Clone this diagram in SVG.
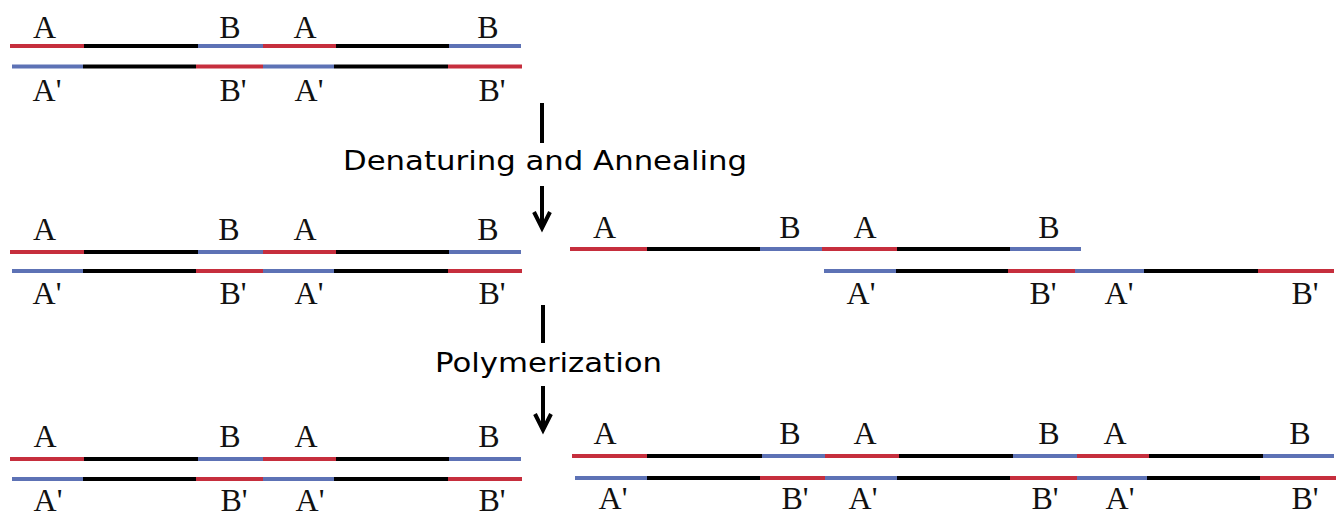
<svg xmlns="http://www.w3.org/2000/svg" width="1336" height="517" viewBox="0 0 1336 517">
<style>
.r{stroke:#c62e3d;stroke-width:4;fill:none}
.b{stroke:#5d72b5;stroke-width:4;fill:none}
.k{stroke:#000;stroke-width:4;fill:none}
.lab{font-family:"Liberation Serif",serif;font-size:32px;fill:#111;text-anchor:middle}
.step{font-family:"DejaVu Sans",sans-serif;font-size:26px;fill:#000;text-anchor:middle}
.ar{stroke:#000;stroke-width:4;fill:none}
</style>
<rect width="1336" height="517" fill="#fff"/>
<defs>
<g id="strandTop">
<line class="r" x1="10" y1="0" x2="84" y2="0"/>
<line class="k" x1="84" y1="0" x2="198" y2="0"/>
<line class="b" x1="198" y1="0" x2="263" y2="0"/>
<line class="r" x1="263" y1="0" x2="336" y2="0"/>
<line class="k" x1="336" y1="0" x2="449" y2="0"/>
<line class="b" x1="449" y1="0" x2="521" y2="0"/>
</g>
<g id="strandBot">
<line class="b" x1="12" y1="0" x2="83" y2="0"/>
<line class="k" x1="83" y1="0" x2="196" y2="0"/>
<line class="r" x1="196" y1="0" x2="263" y2="0"/>
<line class="b" x1="263" y1="0" x2="334" y2="0"/>
<line class="k" x1="334" y1="0" x2="448" y2="0"/>
<line class="r" x1="448" y1="0" x2="522" y2="0"/>
</g>
</defs>

<g id="row1-duplex">
<use href="#strandTop" y="46"/>
<use href="#strandBot" y="66.5"/>
<text class="lab" x="44.5" y="38">A</text>
<text class="lab" x="230" y="38">B</text>
<text class="lab" x="305" y="38">A</text>
<text class="lab" x="488" y="38">B</text>
<text class="lab" x="47" y="101">A'</text>
<text class="lab" x="233" y="101">B'</text>
<text class="lab" x="309" y="101">A'</text>
<text class="lab" x="492" y="101">B'</text>
</g>

<g id="row2-left">
<use href="#strandTop" y="252"/>
<use href="#strandBot" y="271"/>
<text class="lab" x="44.5" y="240">A</text>
<text class="lab" x="229" y="240">B</text>
<text class="lab" x="305" y="240">A</text>
<text class="lab" x="488" y="240">B</text>
<text class="lab" x="47" y="304">A'</text>
<text class="lab" x="233" y="304">B'</text>
<text class="lab" x="309" y="304">A'</text>
<text class="lab" x="492" y="304">B'</text>
</g>

<g id="row2-right">
<line class="r" x1="570" y1="249" x2="647" y2="249"/>
<line class="k" x1="647" y1="249" x2="760" y2="249"/>
<line class="b" x1="760" y1="249" x2="822" y2="249"/>
<line class="r" x1="822" y1="249" x2="897" y2="249"/>
<line class="k" x1="897" y1="249" x2="1010" y2="249"/>
<line class="b" x1="1010" y1="249" x2="1081" y2="249"/>
<line class="b" x1="824" y1="271" x2="896" y2="271"/>
<line class="k" x1="896" y1="271" x2="1008" y2="271"/>
<line class="r" x1="1008" y1="271" x2="1075" y2="271"/>
<line class="b" x1="1075" y1="271" x2="1144" y2="271"/>
<line class="k" x1="1144" y1="271" x2="1258" y2="271"/>
<line class="r" x1="1258" y1="271" x2="1334" y2="271"/>
<text class="lab" x="604.5" y="238">A</text>
<text class="lab" x="790" y="238">B</text>
<text class="lab" x="865" y="238">A</text>
<text class="lab" x="1049" y="238">B</text>
<text class="lab" x="861" y="304">A'</text>
<text class="lab" x="1043" y="304">B'</text>
<text class="lab" x="1119" y="304">A'</text>
<text class="lab" x="1305" y="304">B'</text>
</g>

<g id="row3-left">
<use href="#strandTop" y="459"/>
<use href="#strandBot" y="479"/>
<text class="lab" x="45" y="447">A</text>
<text class="lab" x="230" y="447">B</text>
<text class="lab" x="306" y="447">A</text>
<text class="lab" x="489" y="447">B</text>
<text class="lab" x="48" y="511">A'</text>
<text class="lab" x="234" y="511">B'</text>
<text class="lab" x="310" y="511">A'</text>
<text class="lab" x="492" y="511">B'</text>
</g>

<g id="row3-right">
<line class="r" x1="572" y1="456" x2="647" y2="456"/>
<line class="k" x1="647" y1="456" x2="762" y2="456"/>
<line class="b" x1="762" y1="456" x2="825" y2="456"/>
<line class="r" x1="825" y1="456" x2="899" y2="456"/>
<line class="k" x1="899" y1="456" x2="1013" y2="456"/>
<line class="b" x1="1013" y1="456" x2="1077" y2="456"/>
<line class="r" x1="1077" y1="456" x2="1149" y2="456"/>
<line class="k" x1="1149" y1="456" x2="1263" y2="456"/>
<line class="b" x1="1263" y1="456" x2="1334" y2="456"/>
<line class="b" x1="575" y1="478" x2="647" y2="478"/>
<line class="k" x1="647" y1="478" x2="760" y2="478"/>
<line class="r" x1="760" y1="478" x2="825" y2="478"/>
<line class="b" x1="825" y1="478" x2="897" y2="478"/>
<line class="k" x1="897" y1="478" x2="1010" y2="478"/>
<line class="r" x1="1010" y1="478" x2="1077" y2="478"/>
<line class="b" x1="1077" y1="478" x2="1147" y2="478"/>
<line class="k" x1="1147" y1="478" x2="1260" y2="478"/>
<line class="r" x1="1260" y1="478" x2="1336" y2="478"/>
<text class="lab" x="605" y="444">A</text>
<text class="lab" x="790" y="444">B</text>
<text class="lab" x="865" y="444">A</text>
<text class="lab" x="1049" y="444">B</text>
<text class="lab" x="1115" y="444">A</text>
<text class="lab" x="1300" y="444">B</text>
<text class="lab" x="613" y="509">A'</text>
<text class="lab" x="795" y="509">B'</text>
<text class="lab" x="863" y="509">A'</text>
<text class="lab" x="1045" y="509">B'</text>
<text class="lab" x="1120" y="509">A'</text>
<text class="lab" x="1305" y="509">B'</text>
</g>

<g id="connectors">
<line class="ar" x1="542" y1="103" x2="542" y2="143"/>
<path class="ar" d="M542 186 V227 M534 212 L542 228 L550 212"/>
<line class="ar" x1="543" y1="305" x2="543" y2="343"/>
<path class="ar" d="M543 386 V429 M535 414 L543 430 L551 414"/>
</g>
<g id="step1"><text class="step" x="545" y="170" textLength="404" lengthAdjust="spacingAndGlyphs">Denaturing and Annealing</text></g>
<g id="step2"><text class="step" x="548.5" y="372" textLength="227" lengthAdjust="spacingAndGlyphs">Polymerization</text></g>
</svg>
